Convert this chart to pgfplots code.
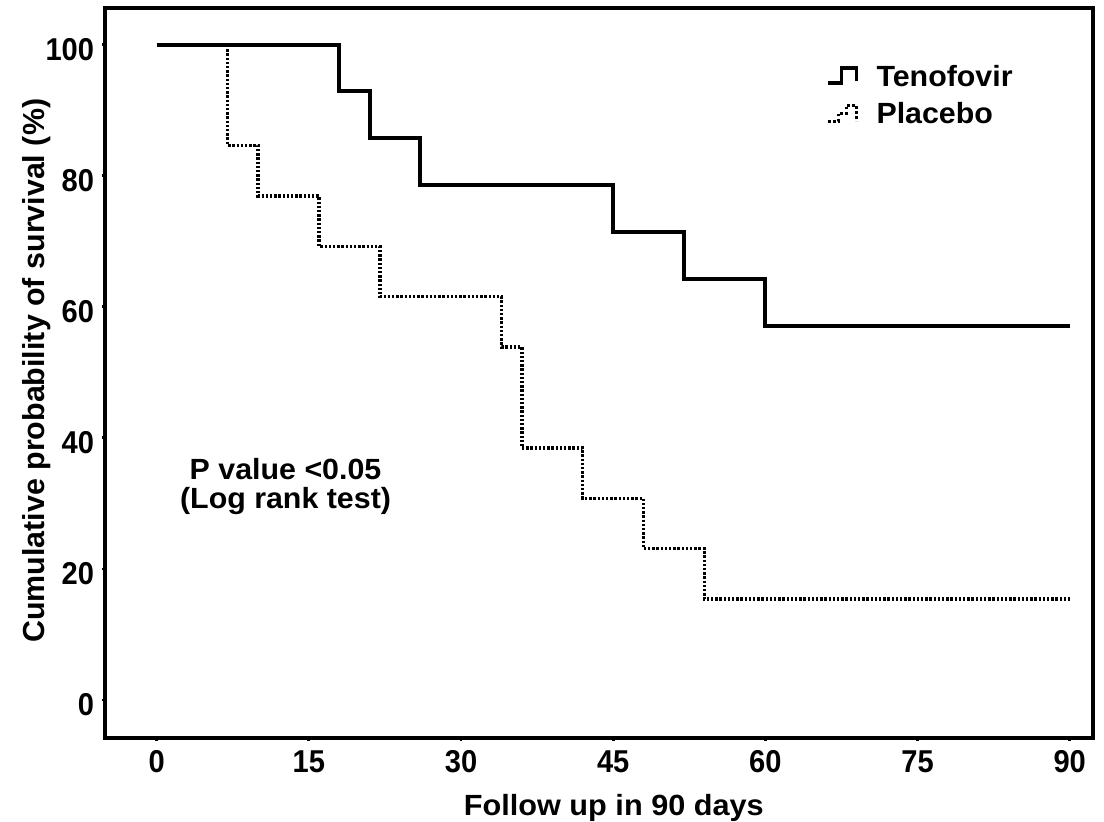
\documentclass[border=0pt]{standalone}
\usepackage{pgfplots}
\pgfplotsset{compat=1.18}
\usepackage{fontspec}
\setmainfont{Liberation Sans}
\begin{document}
\begin{tikzpicture}
\begin{axis}[
  scale only axis,
  width=494pt, height=365pt,
  xmin=-5.1, xmax=92.3,
  ymin=-5.8, ymax=105.6,
  xtick={0,15,30,45,60,75,90},
  ytick={0,20,40,60,80,100},
  xtick pos=bottom, ytick pos=left,
  tick align=outside,
  major tick length=1.6pt,
  tick style={line width=1.4pt, black},
  axis line style={line width=2pt},
  /pgf/number format/assume math mode=true,
  tick label style={font=\fontsize{15.8}{16}\selectfont\bfseries, xscale=0.92},
  xticklabel style={anchor=north, inner sep=0pt, yshift=-4.5pt},
  yticklabel style={anchor=east, inner sep=0pt, xshift=-4pt, yshift=-2.5pt},
  xlabel={Follow up in 90 days},
  ylabel={Cumulative probability of survival (\%)},
  xlabel style={font=\fontsize{14.6}{15}\selectfont\bfseries, xscale=1.05, at={(axis description cs:0.515,0)}, anchor=base, inner sep=0pt, yshift=-39pt},
  ylabel style={font=\fontsize{15.2}{15}\selectfont\bfseries, at={(axis description cs:-0.084,0.503)}, anchor=north, inner sep=0pt},
  legend style={draw=none, fill=none, at={(0.73,0.925)}, anchor=north west, inner sep=0pt,
    font=\fontsize{14.6}{15}\selectfont\bfseries, row sep=4.5pt, nodes={inner sep=1pt, xscale=1.04}},
  legend cell align=left,
]
\coordinate (SW) at (rel axis cs:0,0);
\coordinate (NE) at (rel axis cs:1,1);
\addplot[black, line width=2pt, const plot, legend image code/.code={
  \draw[black, line width=1.8pt] (0pt,-3pt) -- (6.5pt,-3pt) -- (6.5pt,4.5pt) -- (14pt,4.5pt) -- (14pt,-2pt);
  \path (22pt,0pt);}]
 coordinates {(0,100) (18,92.86) (21,85.71) (26,78.57) (45,71.43) (52,64.29) (60,57.14) (90,57.14)};
\addlegendentry{Tenofovir}
\addplot[black, line width=1.7pt, dash pattern=on 1.2pt off 0.9pt, const plot, legend image code/.code={
  \draw[black, line width=1.7pt, dash pattern=on 1.2pt off 1.3pt] (0pt,-3.5pt) -- (5pt,-3.5pt) -- (5pt,0.5pt) -- (9pt,0.5pt) -- (9pt,4.5pt) -- (14pt,4.5pt)-- (14pt,-3.5pt);
  \path (22pt,0pt);}]
 coordinates {(0,100) (7,84.62) (10,76.92) (16,69.23) (22,61.54) (34,53.85) (36,38.46) (42,30.77) (48,23.08) (54,15.38) (90,15.38)};
\addlegendentry{Placebo}
\node[font=\fontsize{14.6}{14.5}\selectfont\bfseries, xscale=1.04, align=center] at (axis cs:12.7,32.5) {P value <0.05\\(Log rank test)};
\end{axis}
\pgfresetboundingbox
\path ([shift={(-52.5pt,-42pt)}]SW) rectangle ([shift={(5.5pt,4pt)}]NE);
\end{tikzpicture}
\end{document}
